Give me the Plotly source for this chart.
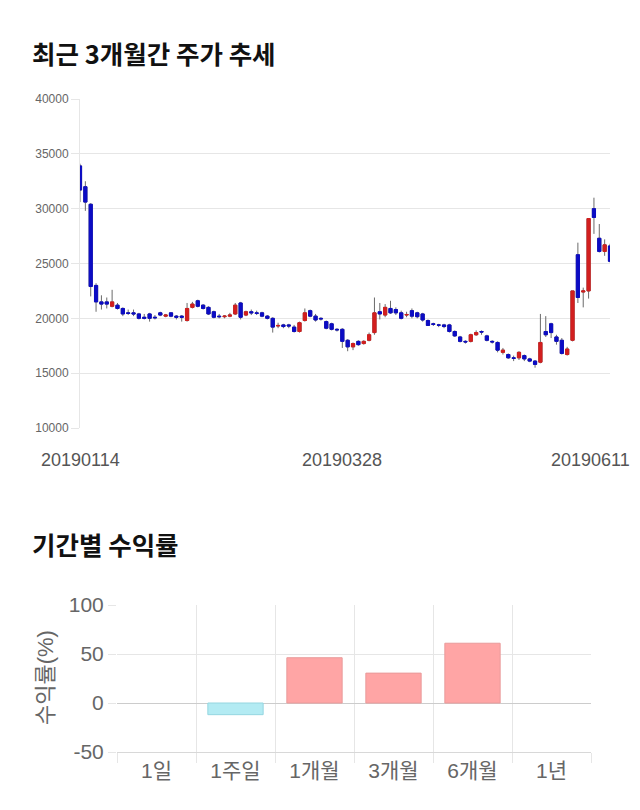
import plotly.graph_objects as go

# ---- price data (trading-day index 0..99, 2019-01-14 .. 2019-06-11) ----
opens = [33900, 32000, 30400, 23000, 21500, 21500, 21100, 21200, 20900, 20500,
         20500, 20400, 20100, 20400, 20100, 20500, 20200, 20500, 20200, 20200,
         19800, 21000, 21600, 21200, 21000, 20600, 20200, 20150, 20200, 20400,
         21400, 20300, 20600, 20500, 20500, 20200, 20000, 19300, 19400, 19400,
         19200, 18800, 19800, 20700, 20200, 20000, 19700, 19500, 19000, 19000,
         18000, 17400, 17900, 17700, 18000, 18700, 20600, 20300, 20900, 20800,
         20500, 20300, 20700, 20500, 20400, 19800, 19500, 19400, 19400, 19400,
         18800, 18300, 17900, 17900, 18500, 18800, 18400, 17900, 17800, 16900,
         16700, 16400, 16400, 16600, 16300, 16100, 16000, 18800, 19500, 18300,
         18000, 16700, 18000, 25800, 22400, 22500, 30000, 27300, 26100, 26600]
highs = [34100, 32500, 30500, 23200, 22100, 21900, 22600, 21400, 21000, 20800,
         20800, 20500, 20400, 20500, 20300, 20600, 20400, 20500, 20300, 20300,
         21400, 21500, 21700, 21300, 21100, 20700, 20400, 20300, 20500, 21400,
         21500, 20700, 20800, 20700, 20600, 20300, 20100, 19600, 19500, 19500,
         19400, 19700, 20900, 20800, 20400, 20100, 19800, 19600, 19100, 19100,
         18100, 17800, 18000, 18000, 18700, 21900, 21400, 21300, 21600, 21000,
         20700, 20600, 20900, 20600, 20500, 19900, 19600, 19500, 19500, 19500,
         18900, 18400, 18000, 18600, 18900, 18900, 18500, 18000, 17900, 17300,
         16800, 16600, 17000, 16700, 16400, 16200, 20400, 20200, 19600, 18500,
         18200, 17400, 22500, 26900, 22800, 29100, 31000, 28600, 27200, 26800]
lows = [30600, 29800, 22000, 20600, 20800, 20900, 21000, 20800, 20200, 20300,
        20200, 19900, 19900, 19700, 19900, 20200, 20100, 20100, 19900, 19700,
        19700, 20900, 21000, 20800, 20300, 20000, 20000, 20000, 20100, 20300,
        19900, 20200, 20300, 20300, 20100, 19900, 18700, 19100, 19100, 19100,
        18700, 18700, 19700, 20100, 19700, 19800, 19000, 18900, 18800, 17300,
        17000, 17100, 17500, 17600, 17900, 18500, 19900, 20100, 20400, 20300,
        19900, 20100, 20000, 20000, 19700, 19300, 19300, 19200, 19100, 18700,
        18300, 17800, 17700, 17800, 18400, 18500, 17900, 17700, 16900, 16700,
        16300, 16100, 16200, 16100, 16000, 15500, 15900, 18300, 18200, 17600,
        16700, 16600, 17900, 21400, 21000, 21800, 27700, 26000, 25700, 25100]
closes = [31700, 30600, 22900, 21500, 21300, 21300, 21500, 20900, 20400, 20450,
          20400, 20000, 20000, 20000, 20050, 20300, 20300, 20200, 20100, 20100,
          20900, 21300, 21100, 20900, 20400, 20100, 20150, 20200, 20300, 21200,
          20100, 20600, 20500, 20450, 20200, 20000, 19200, 19350, 19250, 19300,
          18800, 19600, 20500, 20200, 19850, 19950, 19100, 19000, 18950, 17900,
          17400, 17700, 17600, 17900, 18500, 20500, 20400, 21000, 20500, 20500,
          20000, 20350, 20200, 20150, 19850, 19350, 19450, 19380, 19250, 18800,
          18400, 17900, 17850, 18500, 18700, 18750, 18000, 17850, 17100, 17100,
          16400, 16350, 16900, 16300, 16100, 15800, 17800, 18500, 18700, 17900,
          16800, 17200, 22500, 21900, 22500, 29100, 29200, 26100, 26700, 25200]
date_ticks = [0, 49, 99]
date_labels = ["20190114", "20190328", "20190611"]
price_ticks = [10000, 15000, 20000, 25000, 30000, 35000, 40000]
price_labels = ["10000", "15000", "20000", "25000", "30000", "35000", "40000"]

# ---- period returns ----
periods = ["1일", "1주일", "1개월", "3개월", "6개월", "1년"]
returns = [None, -11.9, 46.2, 30.5, 61.0, None]
return_ticks = [-50, 0, 50, 100]
return_labels = ["-50", "0", "50", "100"]

RED = "#d21f1f"
BLUE = "#0c0cc4"
GRID = "#e6e6e6"
FONT = "Liberation Sans, Noto Sans CJK KR, sans-serif"

idx = list(range(len(opens)))
body_hi = [max(o, c) for o, c in zip(opens, closes)]
body_lo = [min(o, c) for o, c in zip(opens, closes)]

fig = go.Figure()
# wicks (gray)
fig.add_trace(go.Candlestick(
    x=idx, open=opens, high=highs, low=lows, close=closes,
    increasing=dict(line=dict(color="#6a6a6a", width=1), fillcolor=RED),
    decreasing=dict(line=dict(color="#6a6a6a", width=1), fillcolor=BLUE),
    showlegend=False, hoverinfo="skip", xaxis="x", yaxis="y"))
# bodies
fig.add_trace(go.Candlestick(
    x=idx, open=opens, high=body_hi, low=body_lo, close=closes,
    increasing=dict(line=dict(color=RED, width=1), fillcolor=RED),
    decreasing=dict(line=dict(color=BLUE, width=1), fillcolor=BLUE),
    showlegend=False, xaxis="x", yaxis="y"))

bar_colors = ["#ffa5a5" if (v is not None and v >= 0) else "#b3ebf3" for v in returns]
bar_lines = ["#e99a9a" if (v is not None and v >= 0) else "#95d6e0" for v in returns]
fig.add_trace(go.Bar(
    x=periods, y=returns, width=0.7,
    marker=dict(color=bar_colors, line=dict(color=bar_lines, width=1)),
    showlegend=False, xaxis="x2", yaxis="y2"))

W, H = 640, 810
def px_x(a, b):
    return [a / W, b / W]
def px_y(top, bottom):
    return [1 - bottom / H, 1 - top / H]

fig.update_layout(
    template="none",
    width=W, height=H, margin=dict(l=0, r=0, t=0, b=0, pad=0),
    paper_bgcolor="white", plot_bgcolor="white",
    font=dict(family=FONT, color="#666"),
    boxgap=0.15, boxmode="overlay",
    xaxis=dict(domain=px_x(80, 610), range=[0, 99], showgrid=False,
               showticklabels=False, zeroline=False, rangeslider=dict(visible=False),
               automargin=False, ticks="", showline=False),
    yaxis=dict(domain=px_y(99, 428), range=[10000, 40000], tickvals=price_ticks,
               ticktext=price_labels,
               ticks="outside", ticklen=8, tickcolor=GRID, gridcolor=GRID,
               showgrid=True, showline=True, linecolor=GRID, zeroline=False,
               automargin=False, tickfont=dict(size=12, color="#666")),
    xaxis2=dict(domain=px_x(117, 591), type="category", tickson="boundaries",
                ticks="outside", ticklen=10, tickcolor=GRID, showgrid=True,
                gridcolor=GRID, showline=True, linecolor="#d8d8d8",
                automargin=False, zeroline=False,
                tickfont=dict(size=21, color="#666"), anchor="y2"),
    yaxis2=dict(domain=px_y(605, 752), range=[-50, 100], tickvals=return_ticks,
                ticktext=return_labels, showgrid=True,
                ticks="outside", ticklen=8, tickcolor=GRID, gridcolor=GRID,
                zeroline=True, zerolinecolor="#cccccc", zerolinewidth=1,
                automargin=False, showline=False,
                tickfont=dict(size=21, color="#666"), anchor="x2"),
)

annotations = []
shifts = [0, 0, -20]
for t, lab, s in zip(date_ticks, date_labels, shifts):
    annotations.append(dict(x=t, xref="x", y=1 - 460 / H, yref="paper",
                            text=lab, showarrow=False, xshift=s,
                            font=dict(size=18, color="#555"),
                            xanchor="center", yanchor="middle"))
annotations.append(dict(x=30 / W, y=1 - 52 / H, xref="paper", yref="paper",
                        text="<b>최근 3개월간 주가 추세</b>", showarrow=False,
                        xanchor="left", yanchor="middle",
                        font=dict(size=25.5, color="#111", family="Noto Sans CJK KR")))
annotations.append(dict(x=30 / W, y=1 - 543 / H, xref="paper", yref="paper",
                        text="<b>기간별 수익률</b>", showarrow=False,
                        xanchor="left", yanchor="middle",
                        font=dict(size=25.5, color="#111", family="Noto Sans CJK KR")))
annotations.append(dict(x=45 / W, y=1 - 678 / H, xref="paper", yref="paper",
                        text="수익률(%)", showarrow=False, textangle=-90,
                        xanchor="center", yanchor="middle",
                        font=dict(size=22, color="#666")))
fig.update_layout(annotations=annotations)

fig.write_html("out.html")
